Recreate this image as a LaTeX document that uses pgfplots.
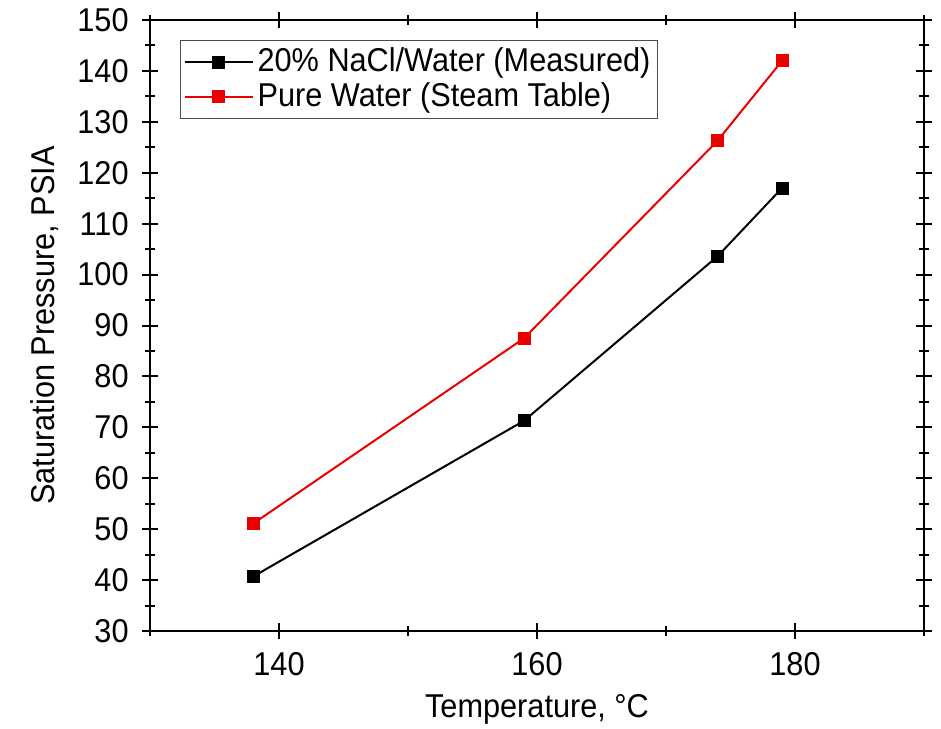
\documentclass[border=0pt]{standalone}
\usepackage{pgfplots}
\pgfplotsset{compat=1.18}
\usepackage{fontspec}
\setmainfont{Liberation Sans}[FakeStretch=0.93]
\definecolor{myred}{RGB}{235,0,0}
\begin{document}
\fontsize{16.5}{19}\selectfont
\begin{tikzpicture}
\useasboundingbox (-75pt,-48.5pt) rectangle (395.5pt,315.5pt);
\begin{axis}[
  at={(0,0)}, anchor=south west,
  scale only axis, width=387pt, height=305.5pt,
  xmin=130, xmax=190, ymin=30, ymax=150,
  xtick={140,160,180}, minor xtick={130,150,170,190},
  ytick={30,40,...,150}, minor ytick={35,45,...,145},
  tick align=center,
  major tick length=8pt, minor tick length=5pt,
  every tick/.style={black, line width=1pt},
  axis line style={line width=1.2pt},
  /pgf/number format/assume math mode=true,
  tick label style={font=\fontsize{16.5}{19}\selectfont},
  xticklabel style={yshift=-1pt},
  yticklabel style={xshift=-1pt},
  xlabel={Temperature, \textdegree C},
  ylabel={Saturation Pressure, PSIA},
  label style={font=\fontsize{16.5}{19}\selectfont},
  xlabel style={at={(axis description cs:0.5,-0.128)}, anchor=center},
  ylabel style={at={(axis description cs:-0.136,0.5)}, anchor=center},
  legend style={at={(15pt,295.5pt)}, anchor=north west, draw=black!70, line width=0.6pt,
    font=\fontsize{16.5}{19}\selectfont, inner sep=1.5pt, row sep=-1pt,
    legend cell align=left},
  legend image code/.code={
    \draw[mark repeat=2, mark phase=2] plot coordinates {(0pt,0pt) (17pt,0pt) (34pt,0pt)};
  },
  clip=false,
]
\addplot[black, line width=1pt, mark=square*, mark size=2.75pt, mark options={solid}]
  coordinates {(138,40.7) (159,71.3) (174,103.6) (179,117.0)};
\addlegendentry{20\% NaCl/Water (Measured)}
\addplot[myred, line width=1pt, mark=square*, mark size=2.75pt, mark options={solid}]
  coordinates {(138,51.1) (159,87.5) (174,126.3) (179,142.0)};
\addlegendentry{Pure Water (Steam Table)}
\end{axis}
\end{tikzpicture}
\end{document}
